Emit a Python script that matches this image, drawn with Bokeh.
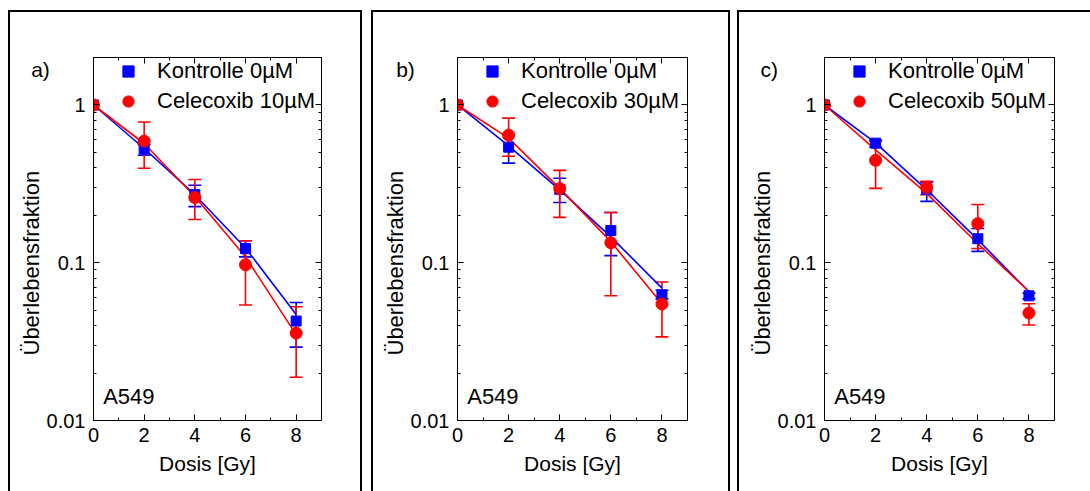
from bokeh.plotting import figure
from bokeh.layouts import row
from bokeh.models import (Range1d, LinearAxis, LogAxis, FixedTicker, SingleIntervalTicker,
                          Whisker, TeeHead, ColumnDataSource, Label, Legend, LegendItem, Title)
from bokeh.embed import file_html
from bokeh.resources import INLINE

FONT = "Liberation Sans"
BLUE = "#0000ff"
RED = "#ff0000"

dose = [0, 2, 4, 6, 8]
panel_tags = ["a)", "b)", "c)"]
ctrl_label = "Kontrolle 0µM"
celecoxib_labels = ["Celecoxib 10µM", "Celecoxib 30µM", "Celecoxib 50µM"]
cell_line = "A549"
x_title = "Dosis [Gy]"
y_title = "Überlebensfraktion"
x_tick_values = [0, 2, 4, 6, 8]
y_tick_values = [0.01, 0.1, 1]
y_tick_labels = ["0.01", "0.1", "1"]
y_minor_ticks = [0.02, 0.03, 0.04, 0.05, 0.06, 0.07, 0.08, 0.09,
                 0.2, 0.3, 0.4, 0.5, 0.6, 0.7, 0.8, 0.9, 2]

# panel a) Celecoxib 10 µM
ctrl_sf_a = [1, 0.525, 0.271, 0.123, 0.0427]
ctrl_hi_a = [1, 0.56, 0.31, 0.138, 0.056]
ctrl_lo_a = [1, 0.48, 0.227, 0.109, 0.0292]
ctrl_fit_a = [1, 0.53, 0.27, 0.124, 0.047]
cel_sf_a = [1, 0.59, 0.259, 0.097, 0.0358]
cel_hi_a = [1, 0.78, 0.337, 0.138, 0.0526]
cel_lo_a = [1, 0.397, 0.188, 0.054, 0.0188]
cel_fit_a = [1, 0.57, 0.263, 0.109, 0.035]

# panel b) Celecoxib 30 µM
ctrl_sf_b = [1, 0.54, 0.292, 0.16, 0.0626]
ctrl_hi_b = [1, 0.644, 0.343, 0.208, 0.067]
ctrl_lo_b = [1, 0.428, 0.241, 0.111, 0.059]
ctrl_fit_b = [1, 0.55, 0.29, 0.146, 0.069]
cel_sf_b = [1, 0.644, 0.295, 0.134, 0.0548]
cel_hi_b = [1, 0.826, 0.385, 0.208, 0.0755]
cel_lo_b = [1, 0.473, 0.194, 0.0618, 0.0339]
cel_fit_b = [1, 0.617, 0.296, 0.136, 0.055]

# panel c) Celecoxib 50 µM
ctrl_sf_c = [1, 0.573, 0.292, 0.142, 0.0617]
ctrl_hi_c = [1, 0.6, 0.323, 0.165, 0.064]
ctrl_lo_c = [1, 0.54, 0.245, 0.118, 0.059]
ctrl_fit_c = [1, 0.575, 0.29, 0.14, 0.0655]
cel_sf_c = [1, 0.446, 0.30, 0.177, 0.048]
cel_hi_c = [1, 0.59, 0.328, 0.234, 0.055]
cel_lo_c = [1, 0.296, 0.27, 0.123, 0.0403]
cel_fit_c = [1, 0.52, 0.275, 0.132, 0.066]

panels = [
    (ctrl_sf_a, ctrl_hi_a, ctrl_lo_a, ctrl_fit_a, cel_sf_a, cel_hi_a, cel_lo_a, cel_fit_a),
    (ctrl_sf_b, ctrl_hi_b, ctrl_lo_b, ctrl_fit_b, cel_sf_b, cel_hi_b, cel_lo_b, cel_fit_b),
    (ctrl_sf_c, ctrl_hi_c, ctrl_lo_c, ctrl_fit_c, cel_sf_c, cel_hi_c, cel_lo_c, cel_fit_c),
]

# geometry: frame width, min borders, css margins, tag x (data units, left of frame)
geom = [
    dict(fw=224, bl=83, br=43, margin=(10, 0, 0, 8), right_border=True, tag=-2.46),
    dict(fw=226, bl=84, br=45, margin=(10, 0, 0, 9), right_border=True, tag=-2.4),
    dict(fw=228, bl=85, br=38, margin=(10, 0, 0, 7), right_border=False, tag=-2.5),
]


def style_axis(ax, size="20px", standoff=None):
    ax.axis_line_color = "black"
    ax.axis_line_width = 1
    ax.major_tick_in = 6
    ax.major_tick_out = 0
    ax.minor_tick_in = 3
    ax.minor_tick_out = 0
    ax.major_tick_line_color = "black"
    ax.minor_tick_line_color = "black"
    ax.major_label_text_font = FONT
    ax.major_label_text_color = "black"
    ax.major_label_text_font_size = size
    if standoff is not None:
        ax.major_label_standoff = standoff


figs = []
for i, (data, g) in enumerate(zip(panels, geom)):
    c_sf, c_hi, c_lo, c_fit, r_sf, r_hi, r_lo, r_fit = data
    styles = {"border-left": "2px solid black", "border-top": "2px solid black"}
    if g["right_border"]:
        styles["border-right"] = "2px solid black"
    p = figure(frame_width=g["fw"], frame_height=361,
               min_border_left=g["bl"], min_border_right=g["br"],
               min_border_top=45, min_border_bottom=73,
               x_range=Range1d(0, 9), y_range=Range1d(0.01, 2),
               y_axis_type="log", output_backend="svg", toolbar_location=None,
               margin=g["margin"], styles=styles)
    p.grid.visible = False
    p.outline_line_color = "black"
    p.outline_line_width = 1

    p.xaxis.ticker = SingleIntervalTicker(interval=2, num_minor_ticks=2)
    p.yaxis.ticker = FixedTicker(ticks=y_tick_values, minor_ticks=y_minor_ticks)
    p.yaxis.major_label_overrides = {v: s for v, s in zip(y_tick_values, y_tick_labels)}
    p.xaxis.axis_label = x_title
    p.xaxis.axis_label_text_font = FONT
    p.xaxis.axis_label_text_font_size = "21px"
    p.xaxis.axis_label_text_font_style = "normal"
    p.xaxis.axis_label_text_color = "black"
    p.xaxis.axis_label_standoff = 7
    style_axis(p.xaxis[0], standoff=7)
    style_axis(p.yaxis[0], standoff=8)

    top_ax = LinearAxis(ticker=SingleIntervalTicker(interval=2, num_minor_ticks=2),
                        major_label_overrides={v: "" for v in x_tick_values})
    style_axis(top_ax, size="2px", standoff=0)
    p.add_layout(top_ax, "above")
    right_ax = LogAxis(ticker=FixedTicker(ticks=y_tick_values, minor_ticks=y_minor_ticks),
                       major_label_overrides={v: "" for v in y_tick_values})
    style_axis(right_ax)
    p.add_layout(right_ax, "right")

    p.add_layout(Title(text=y_title, align="left", offset=65, standoff=0,
                       text_font=FONT, text_font_size="22px", text_font_style="normal",
                       text_color="black"), "left")

    p.line(dose, c_fit, line_color=BLUE, line_width=1.6)
    p.line(dose, r_fit, line_color=RED, line_width=1.6)

    src_c = ColumnDataSource(dict(x=dose[1:], hi=c_hi[1:], lo=c_lo[1:]))
    src_r = ColumnDataSource(dict(x=dose[1:], hi=r_hi[1:], lo=r_lo[1:]))
    for src, col in ((src_c, BLUE), (src_r, RED)):
        w = Whisker(base="x", upper="hi", lower="lo", source=src,
                    line_color=col, line_width=1.6,
                    upper_head=TeeHead(size=13, line_color=col, line_width=1.6),
                    lower_head=TeeHead(size=13, line_color=col, line_width=1.6))
        p.add_layout(w)

    rc = p.scatter(dose, c_sf, marker="square", size=10, fill_color=BLUE, line_color=BLUE)
    rr = p.scatter(dose, r_sf, marker="circle", size=12, fill_color=RED, line_color=RED)

    legend = Legend(items=[LegendItem(label=ctrl_label, renderers=[rc]),
                           LegendItem(label=celecoxib_labels[i], renderers=[rr])],
                    location=(21, 304), padding=0, margin=0, spacing=0,
                    glyph_width=28, glyph_height=30, label_height=30,
                    label_standoff=15, border_line_color=None,
                    background_fill_alpha=0, label_text_color="black",
                    label_text_font=FONT, label_text_font_size="22px")
    p.add_layout(legend)

    p.add_layout(Label(x=g["tag"], y=1.67, text=panel_tags[i],
                       text_align="left", text_baseline="alphabetic",
                       text_color="black", text_font=FONT, text_font_size="21px"), "above")
    p.add_layout(Label(x=0.38, y=0.0142, text=cell_line,
                       text_align="left", text_baseline="alphabetic",
                       text_color="black", text_font=FONT, text_font_size="22px"))
    figs.append(p)

layout = row(*figs, spacing=0)
open("out.html", "w").write(file_html(layout, INLINE))
